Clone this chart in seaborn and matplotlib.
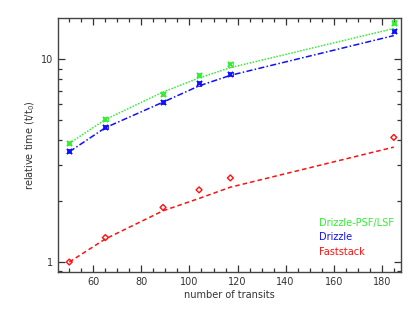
import numpy as np
import pandas as pd
import matplotlib
matplotlib.use("Agg")
import matplotlib.pyplot as plt
import matplotlib.ticker as mticker
import seaborn as sns

# data
transits = [50, 65, 89, 104, 117, 185]
psf_meas = [3.88, 5.09, 6.77, 8.37, 9.44, 15.2]
psf_fit = [3.85, 5.05, 6.9, 8.1, 9.1, 14.2]
drz_meas = [3.53, 4.63, 6.15, 7.61, 8.49, 13.8]
drz_fit = [3.5, 4.6, 6.15, 7.4, 8.34, 13.1]
fast_meas = [1.0, 1.32, 1.86, 2.27, 2.6, 4.12]
fast_fit = [1.0, 1.3, 1.79, 2.06, 2.34, 3.69]

labels = ["Drizzle-PSF/LSF", "Drizzle", "Faststack"]
colors = ["#33ee33", "#1010ff", "#ff1010"]

sns.set_style("ticks")
plt.rcParams["font.family"] = ["DejaVu Sans"]

fig = plt.figure(figsize=(4.2, 3.09), dpi=100)
ax = fig.add_axes([58 / 420, 1 - 272 / 309, 343 / 420, 254 / 309])

fits = [psf_fit, drz_fit, fast_fit]
meas = [psf_meas, drz_meas, fast_meas]
styles = [(0, (1, 1)), (0, (4, 1.5, 1, 1.5)), (0, (3, 2))]
markers = ["x", "x", "D"]

for fit, m, c, ls, mk in zip(fits, meas, colors, styles, markers):
    sns.lineplot(x=transits, y=fit, color=c, ax=ax, linewidth=1.1)
    ax.lines[-1].set_linestyle(ls)
    if mk == "D":
        sns.scatterplot(x=transits, y=m, marker="D", s=9, facecolors="none",
                        edgecolor=c, linewidth=1.0, ax=ax)
    else:
        sns.scatterplot(x=transits, y=m, marker="x", s=14, color=c,
                        linewidth=1.3, ax=ax)
        sns.scatterplot(x=transits, y=m, marker="s", s=10, facecolors="none",
                        edgecolor=c, linewidth=0.6, ax=ax)

ax.set_yscale("log")
ax.set_xlim(45.3, 188)
ax.set_ylim(0.893, 16)
ax.yaxis.set_major_locator(mticker.FixedLocator([1, 10]))
ax.yaxis.set_major_formatter(mticker.FixedFormatter(["1", "10"]))
ax.yaxis.set_minor_locator(mticker.FixedLocator(
    [k * 10.0 ** e for e in (-1, 0, 1) for k in range(2, 10)]))
ax.yaxis.set_minor_formatter(mticker.NullFormatter())
ax.xaxis.set_major_locator(mticker.MultipleLocator(20))
ax.xaxis.set_minor_locator(mticker.MultipleLocator(5))

ax.tick_params(which="both", direction="in", top=True, right=True,
               labelsize=7, colors="#333333", width=0.9)
ax.tick_params(which="major", length=5)
ax.tick_params(which="minor", length=3, width=0.9)
for sp in ax.spines.values():
    sp.set_linewidth(1.0)
    sp.set_color("#444444")

ax.set_xlabel("number of transits", fontsize=7, color="#333333", labelpad=2)
ax.set_ylabel("relative time (t/t$_0$)", fontsize=7, color="#333333", labelpad=3)

for i, (lab, c) in enumerate(zip(labels, colors)):
    fig.text(319 / 420, 1 - (223 + 14.5 * i) / 309, lab, color=c,
             fontsize=7, va="center", ha="left")

fig.savefig("out.png", dpi=100)
